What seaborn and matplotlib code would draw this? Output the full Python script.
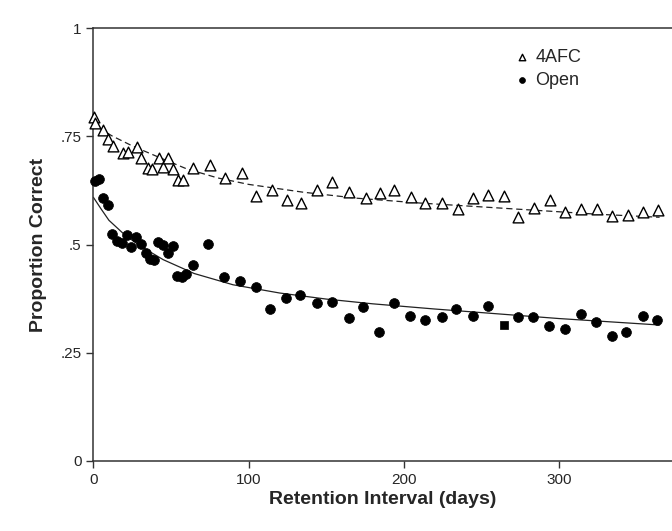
import matplotlib
matplotlib.use('Agg')
import matplotlib.pyplot as plt
import seaborn as sns
import pandas as pd

sns.set_style('ticks')
plt.rcParams['font.family'] = ['Liberation Sans', 'DejaVu Sans']

# 4AFC recognition test (triangles)
afc_days = [0.5, 1, 6, 9.5, 12.5, 19, 22, 28, 31, 35, 38, 42, 45, 48, 51, 54.5, 57.5,
            64, 75, 85, 96, 105, 115, 124.5, 134, 144, 154, 164.5, 175.5, 185, 194,
            205, 214, 224.5, 235, 244.5, 254.5, 264.5, 274, 284, 294.5, 304, 314.5,
            324.5, 334.5, 344.5, 354, 364]
afc_vals = [0.795, 0.780, 0.764, 0.744, 0.728, 0.711, 0.713, 0.725, 0.699, 0.677, 0.674,
            0.699, 0.679, 0.699, 0.674, 0.649, 0.649, 0.677, 0.683, 0.653, 0.665, 0.612,
            0.626, 0.603, 0.596, 0.626, 0.644, 0.622, 0.607, 0.618, 0.626, 0.609, 0.596,
            0.596, 0.582, 0.607, 0.614, 0.612, 0.563, 0.585, 0.603, 0.575, 0.582, 0.582,
            0.566, 0.568, 0.575, 0.580]

# open recall test (filled circles)
open_days = [1, 3.5, 6, 9.5, 12, 15.5, 18.5, 21.5, 24, 27.5, 30.5, 34, 36.5, 39, 41.5,
             45, 48, 51, 54, 57, 60, 64, 74, 84, 94.5, 104.5, 114, 124, 133.5, 144, 154,
             164.5, 174, 184, 193.5, 204, 213.5, 224.5, 234, 244.5, 254.5, 273.5,
             283.5, 293.5, 304, 314.5, 324, 334.5, 343.5, 354, 363.5]
open_vals = [0.646, 0.651, 0.607, 0.591, 0.524, 0.508, 0.504, 0.522, 0.494, 0.517, 0.502,
             0.480, 0.467, 0.464, 0.506, 0.498, 0.480, 0.497, 0.427, 0.425, 0.432, 0.452,
             0.502, 0.425, 0.416, 0.402, 0.351, 0.377, 0.384, 0.365, 0.368, 0.330, 0.356,
             0.299, 0.365, 0.334, 0.325, 0.332, 0.351, 0.334, 0.358, 0.332, 0.332,
             0.312, 0.305, 0.340, 0.321, 0.288, 0.298, 0.334, 0.325]
# one open point is drawn as a square in the original
open_sq_days = [264.5]
open_sq_vals = [0.314]

# fitted curves
afc_fit_days = [0, 5, 12, 25, 40, 60, 80, 100, 135, 170, 210, 250, 290, 325, 365]
afc_fit_vals = [0.790, 0.766, 0.751, 0.728, 0.705, 0.675, 0.654, 0.639, 0.621, 0.607,
                0.596, 0.587, 0.578, 0.570, 0.563]
open_fit_days = [0, 5, 10, 20, 30, 45, 65, 90, 120, 150, 180, 220, 260, 300, 365]
open_fit_vals = [0.609, 0.582, 0.556, 0.523, 0.497, 0.465, 0.433, 0.407, 0.388, 0.374,
                 0.363, 0.351, 0.340, 0.329, 0.314]

x_ticks = [0, 100, 200, 300]
y_ticks = [0, 0.25, 0.5, 0.75, 1]
y_tick_labels = ['0', '.25', '.5', '.75', '1']

afc = pd.DataFrame({'days': afc_days, 'p': afc_vals})
opn = pd.DataFrame({'days': open_days, 'p': open_vals})
opn_sq = pd.DataFrame({'days': open_sq_days, 'p': open_sq_vals})
afc_fit = pd.DataFrame({'days': afc_fit_days, 'p': afc_fit_vals})
opn_fit = pd.DataFrame({'days': open_fit_days, 'p': open_fit_vals})

fig = plt.figure(figsize=(6.72, 5.31), dpi=100)
ax = fig.add_axes([0.139, 0.132, 0.861, 0.815])

sns.lineplot(data=afc_fit, x='days', y='p', ax=ax, color='#222222', linewidth=0.9,
             linestyle=(0, (5, 3)), sort=False)
sns.lineplot(data=opn_fit, x='days', y='p', ax=ax, color='#222222', linewidth=0.9,
             sort=False)
sns.scatterplot(data=afc, x='days', y='p', ax=ax, marker='^', s=60,
                facecolor='white', edgecolor='black', linewidth=1.0, clip_on=False,
                label='4AFC', zorder=3)
sns.scatterplot(data=opn, x='days', y='p', ax=ax, marker='o', s=50,
                color='black', edgecolor='black', linewidth=0.5, clip_on=False,
                label='Open', zorder=3)
sns.scatterplot(data=opn_sq, x='days', y='p', ax=ax, marker='s', s=40,
                color='black', edgecolor='black', linewidth=0.5, legend=False, zorder=3)

ax.set_xlim(0, 373)
ax.set_ylim(0, 1)
ax.set_xticks(x_ticks)
ax.set_yticks(y_ticks)
ax.set_yticklabels(y_tick_labels)
ax.tick_params(axis='both', labelsize=11, length=5, width=1, direction='out', color='#333333')
for side in ['left', 'bottom', 'top']:
    ax.spines[side].set_linewidth(1.1)
    ax.spines[side].set_color('#333333')
ax.spines['right'].set_visible(False)

ax.set_xlabel('Retention Interval (days)', fontsize=14, fontweight='bold', labelpad=3)
ax.set_ylabel('Proportion Correct', fontsize=14, fontweight='bold', labelpad=10)

ax.legend(loc='upper left', bbox_to_anchor=(0.697, 0.99), frameon=False,
          fontsize=13, markerscale=0.6, handlelength=1.0, handletextpad=0.25,
          labelspacing=0.35)

fig.savefig('out.png', dpi=100)
